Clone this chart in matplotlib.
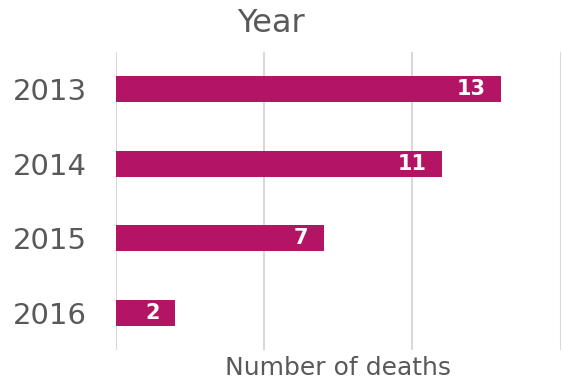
import matplotlib
matplotlib.use('Agg')
import matplotlib.pyplot as plt

# data
years = ['2013', '2014', '2015', '2016']
deaths = [13, 11, 7, 2]

bar_color = '#B41464'
text_color = '#595959'
grid_color = '#D9D9D9'

fig = plt.figure(figsize=(5.63, 3.85), dpi=100)
ax = fig.add_axes([0.206, 0.091, 0.790, 0.774])

ypos = list(range(len(years)))
bars = ax.barh(ypos, deaths, height=0.35, color=bar_color, zorder=3)

# value labels inside the end of each bar
for b, v in zip(bars, deaths):
    ax.annotate(str(v), xy=(b.get_width(), b.get_y() + b.get_height() / 2),
                xytext=(-11, 0), textcoords='offset points',
                ha='right', va='center', color='white',
                fontsize=15, fontweight='bold')

ax.set_xlim(0, 15)
ax.set_ylim(len(years) - 0.5, -0.5)
ax.set_xticks([0, 5, 10, 15])
ax.set_xticklabels([])
ax.set_yticks(ypos)
ax.set_yticklabels(years, fontsize=21, color=text_color)
ax.tick_params(axis='both', length=0)
ax.tick_params(axis='y', pad=21)
ax.grid(axis='x', color=grid_color, linewidth=1.5, zorder=0)
for s in ax.spines.values():
    s.set_visible(False)

ax.set_xlabel('Number of deaths', fontsize=18, color=text_color, labelpad=1)
fig.text(0.482, 0.94, 'Year', fontsize=23, color=text_color,
         ha='center', va='center')

fig.savefig('out.png', dpi=100)
